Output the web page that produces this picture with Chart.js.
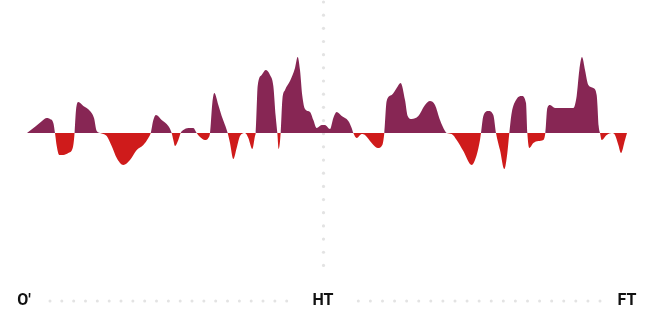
<!DOCTYPE html>
<html>
<head>
<meta charset="utf-8">
<script src="https://cdn.jsdelivr.net/npm/chart.js@4.4.1/dist/chart.umd.min.js"></script>
<style>
  html, body { margin: 0; padding: 0; background: #fff; }
  #wrap { width: 652px; height: 313px; position: relative; }
</style>
</head>
<body>
<div id="wrap"><canvas id="chartMomento"></canvas></div>
<script>
// Minuto del partido
const minutos = [
  0, 1.35, 2.25, 2.96, 3.45, 3.95, 4.2, 4.46, 4.85, 5.45, 6.2, 6.86, 7.1, 7.35, 7.7, 8.45,
  9.45, 10.05, 10.46, 10.95, 11.45, 11.96, 12.7, 13.46, 14.45, 15.45, 16.46, 17.45, 18.2, 18.56,
  18.95, 19.35, 20.2, 21.2, 21.7, 21.95, 22.2, 22.7, 23.05, 23.45, 24.2, 24.95, 25.45, 25.95,
  26.7, 27.2, 27.45, 27.8, 28.1, 28.7, 29.2, 29.7, 30.1, 30.45, 30.95, 31.45, 31.95, 32.7,
  33.2, 33.8, 34.2, 34.3, 34.6, 35.2, 35.8, 36.45, 36.95, 37.3, 37.55, 37.75, 38.05, 38.3,
  38.7, 39.45, 40.2, 40.6, 40.95, 41.3, 41.7, 42.45, 42.95, 43.45, 44.2, 44.7, 45.45, 45.95,
  46.45, 47.2, 48.2, 48.7, 48.95, 49.45, 50.2, 50.7, 51.7, 52.6, 53.3, 53.6, 53.95, 54.7,
  55.45, 56.05, 56.7, 57.1, 57.7, 58.7, 59.7, 60.45, 61.2, 61.95, 62.7, 62.95, 63.7, 64.45,
  65.45, 66.7, 67.45, 67.95, 68.1, 68.45, 69.2, 69.95, 70.35, 70.95, 71.6, 72.05, 72.35, 72.7,
  73.45, 74.2, 74.85, 75.05, 75.35, 75.95, 76.7, 77.45, 77.75, 78.05, 78.45, 79.2, 80.45, 81.95,
  82.45, 82.85, 83.25, 83.7, 84.2, 84.95, 85.45, 85.75, 85.95, 86.2, 86.95, 87.7, 88.2, 88.7,
  89.1, 89.7, 90
];

// Presión (positivo = local, negativo = visitante)
const presion = [
  0, 7, 12, 15, 14, 10, 0, -13, -22, -22, -20, -15, -3, 23, 31, 27,
  22, 15, 2, 0, -1, -3, -13, -25, -32, -27, -17, -12, -5, 0,
  13, 18, 13, 7, 0, -7, -13, -7, 0, 3, 5, 5, 0, -4,
  -7, -5, 0, 30, 40, 28, 17, 8, 0, -10, -26, -15, -3, 0,
  -5, -16, -3, 0, 47, 58, 63, 58, 47, 17, 0, -16, 0, 33,
  43, 52, 65, 76, 63, 37, 24, 21, 13, 5, 8, 8, 4, 15,
  21, 17, 12, 5, 0, -5, -1, -2, -10, -15, -12, 0, 32, 38,
  45, 50, 33, 17, 14, 17, 28, 32, 28, 13, 2, 0, -1, -7,
  -18, -32, -22, -7, 0, 17, 22, 18, 0, -17, -36, -20, 0, 20,
  34, 37, 30, 0, -15, -10, -8, -7, 0, 25, 28, 25, 25, 25,
  37, 63, 76, 63, 48, 45, 38, 7, 0, -7, -2, 0, -2, -12,
  -20, -7, 0
];

// Marcas del eje
const marcasMinuto = [0, 44.4, 90];
const marcasTexto = ["O'", "HT", "FT"];
const minutoDescanso = 44.4;

// Puntos grises y etiquetas
const decoracion = {
  id: "decoracion",
  beforeDatasetsDraw(chart) {
    const { ctx, scales } = chart;
    const xDescanso = scales.x.getPixelForValue(minutoDescanso);
    ctx.save();
    ctx.fillStyle = "#e3e3e3";
    // línea vertical punteada del descanso
    for (let y = 2; y <= 266; y += 13.17) {
      ctx.beginPath();
      ctx.arc(Math.round(xDescanso) + 0.5, y, 1.6, 0, Math.PI * 2);
      ctx.fill();
    }
    ctx.restore();
  },
  afterDraw(chart) {
    const { ctx, scales } = chart;
    const yTexto = 301;
    ctx.save();
    // línea punteada inferior
    ctx.fillStyle = "#e3e3e3";
    const tramos = [[50, 286.7], [358.3, 600]];
    tramos.forEach(([a, b]) => {
      const paso = (b - a) / 20;
      for (let i = 0; i <= 20; i++) {
        ctx.beginPath();
        ctx.arc(a + i * paso, yTexto, 1.5, 0, Math.PI * 2);
        ctx.fill();
      }
    });
    // etiquetas
    ctx.fillStyle = "#111";
    ctx.font = "bold 16px Roboto";
    ctx.textAlign = "center";
    ctx.textBaseline = "middle";
    marcasMinuto.forEach((m, i) => {
      let x = scales.x.getPixelForValue(m);
      if (i === 0) x -= 3;
      ctx.fillText(marcasTexto[i], x, yTexto);
    });
    ctx.restore();
  }
};

new Chart(document.getElementById("chartMomento"), {
  type: "line",
  data: {
    datasets: [{
      data: minutos.map((m, i) => ({ x: m, y: presion[i] })),
      borderWidth: 0,
      pointRadius: 0,
      cubicInterpolationMode: "monotone",
      fill: {
        target: "origin",
        above: "#872654",
        below: "#cf1b1b"
      }
    }]
  },
  options: {
    responsive: true,
    maintainAspectRatio: false,
    animation: false,
    layout: { padding: { left: 27, right: 25, top: 0, bottom: 47 } },
    plugins: {
      legend: { display: false },
      tooltip: { enabled: false }
    },
    scales: {
      x: { type: "linear", min: 0, max: 90, display: false },
      y: { min: -133, max: 133, display: false }
    }
  },
  plugins: [decoracion]
});
</script>
</body>
</html>
